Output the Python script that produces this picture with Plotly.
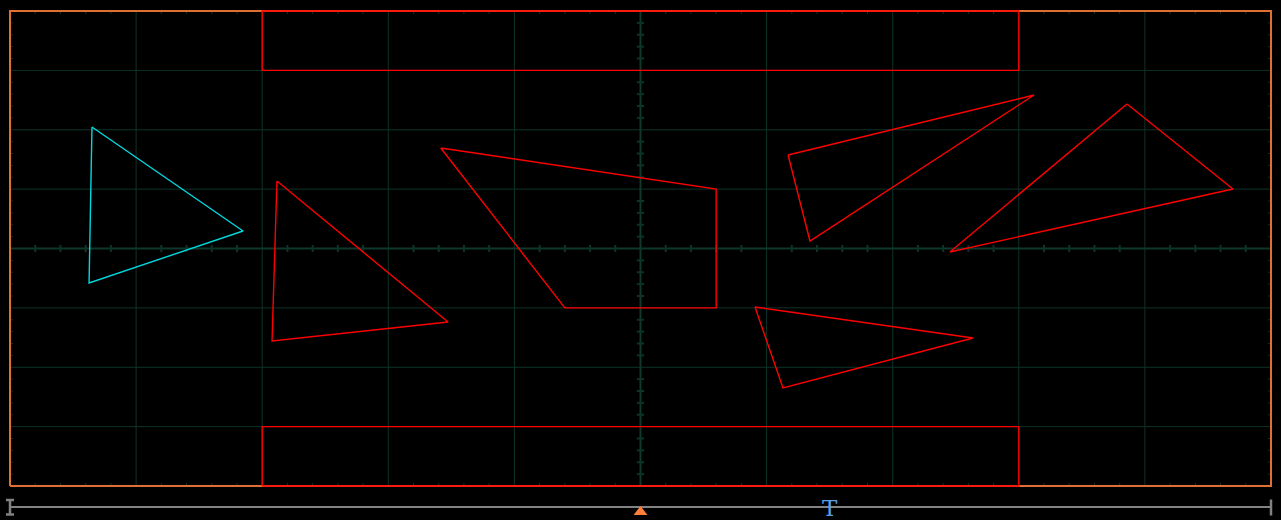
import plotly.graph_objects as go

# Screen: 10 horizontal divisions (-5..5), 8 vertical divisions (-4..4)
mask_top_x = [-3, 3, 3, -3]
mask_top_y = [3, 3, 4, 4]
mask_bot_x = [-3, 3, 3, -3]
mask_bot_y = [-4, -4, -3, -3]

cyan_tri_x = [-4.350, -3.152, -4.373]
cyan_tri_y = [2.046, 0.295, -0.581]

tri1_x = [-2.883, -1.526, -2.922]
tri1_y = [1.137, -1.238, -1.558]

quad_x = [-1.584, 0.6, 0.6, -0.6]
quad_y = [1.693, 1.0, -1.0, -1.0]

tri2_x = [1.170, 3.121, 1.344]
tri2_y = [1.575, 2.585, 0.126]

tri3_x = [3.858, 4.698, 2.454]
tri3_y = [2.434, 1.002, -0.059]

tri4_x = [0.908, 2.637, 1.130]
tri4_y = [-0.986, -1.507, -2.349]

trigger_pos = 0.0     # orange trigger marker (divisions)
t_marker_pos = 1.5    # blue T marker (divisions)

PXX = 126.1   # px per horizontal division
PXY = 59.375  # px per vertical division

def closed(xs, ys):
    return list(xs) + [xs[0]], list(ys) + [ys[0]]

fig = go.Figure()

GRID = "rgb(12,52,40)"
AXIS = "rgb(14,56,42)"

# grid lines
gx, gy = [], []
for i in range(-4, 5):
    if i == 0:
        continue
    gx += [i, i, None]; gy += [-4, 4, None]
for j in range(-3, 4):
    if j == 0:
        continue
    gx += [-5, 5, None]; gy += [j, j, None]
fig.add_trace(go.Scatter(x=gx, y=gy, mode="lines", line=dict(color=GRID, width=1), hoverinfo="skip"))

# center cross
fig.add_trace(go.Scatter(x=[-5, 5, None, 0, 0], y=[0, 0, None, -4, 4], mode="lines",
                         line=dict(color=AXIS, width=2), hoverinfo="skip"))
# center minor ticks
cx, cy = [], []
tx = 3.5 / PXX
ty = 3.5 / PXY
for k in range(-24, 25):
    v = k * 0.2
    if k % 5 != 0:
        cx += [v, v, None]; cy += [-ty, ty, None]
for k in range(-19, 20):
    v = k * 0.2
    if k % 5 != 0:
        cx += [-tx, tx, None]; cy += [v, v, None]
fig.add_trace(go.Scatter(x=cx, y=cy, mode="lines", line=dict(color=GRID, width=2), hoverinfo="skip"))

# edge minor ticks
ex, ey = [], []
el_x = 3 / PXX
el_y = 3 / PXY
for k in range(-24, 25):
    if k % 5 == 0:
        continue
    v = k * 0.2
    ex += [v, v, None, v, v, None]; ey += [4, 4 - el_y, None, -4, -4 + el_y, None]
for k in range(-19, 20):
    if k % 5 == 0:
        continue
    v = k * 0.2
    ex += [-5, -5 + el_x, None, 5, 5 - el_x, None]; ey += [v, v, None, v, v, None]
fig.add_trace(go.Scatter(x=ex, y=ey, mode="lines", line=dict(color=GRID, width=1), hoverinfo="skip"))

# frame
fig.add_trace(go.Scatter(x=[-5, 5, 5, -5, -5], y=[-4, -4, 4, 4, -4], mode="lines",
                         line=dict(color="rgb(222,112,52)", width=2), hoverinfo="skip"))

# red shapes
for xs, ys in [(mask_top_x, mask_top_y), (mask_bot_x, mask_bot_y), (tri1_x, tri1_y),
               (quad_x, quad_y), (tri2_x, tri2_y), (tri3_x, tri3_y), (tri4_x, tri4_y)]:
    X, Y = closed(xs, ys)
    fig.add_trace(go.Scatter(x=X, y=Y, mode="lines", line=dict(color="#ff0000", width=1.4), hoverinfo="skip"))

X, Y = closed(cyan_tri_x, cyan_tri_y)
fig.add_trace(go.Scatter(x=X, y=Y, mode="lines", line=dict(color="#00d8e0", width=1.4), hoverinfo="skip"))

# bottom timeline bar
def py(p):
    return (248.5 - p) / PXY

bar_y = py(507)
fig.add_trace(go.Scatter(x=[-5, 5], y=[bar_y, bar_y], mode="lines",
                         line=dict(color="rgb(130,130,130)", width=2), hoverinfo="skip"))
s = 4 / PXX
fig.add_trace(go.Scatter(
    x=[-5, -5, None, -5 - s, -5 + s, None, -5 - s, -5 + s, None, 5, 5],
    y=[py(499.5), py(515), None, py(500), py(500), None, py(514.5), py(514.5), None, py(499.5), py(515.5)],
    mode="lines", line=dict(color="rgb(130,130,130)", width=2.5), hoverinfo="skip"))
fig.add_trace(go.Scatter(x=[trigger_pos], y=[py(512)], mode="markers",
                         marker=dict(symbol="triangle-up", size=12, color="#ff7f3a", line=dict(width=0)),
                         hoverinfo="skip"))
fig.add_annotation(x=t_marker_pos, y=py(508), text="T", showarrow=False,
                   font=dict(family="DejaVu Serif", size=23, color="#5a9ee6"),
                   xanchor="center", yanchor="middle")

xpad = 10 / PXX
fig.update_layout(
    width=1281, height=520, autosize=False,
    margin=dict(l=0, r=0, t=0, b=0),
    paper_bgcolor="black", plot_bgcolor="black",
    showlegend=False,
    xaxis=dict(range=[-5 - xpad, 5 + xpad], visible=False, fixedrange=True),
    yaxis=dict(range=[py(520), py(0)], visible=False, fixedrange=True),
)

fig.write_html("out.html", config={"displayModeBar": False},
               post_script="document.body.style.margin='0';document.body.style.padding='0';"
                           "document.body.style.background='black';document.body.style.overflow='hidden';")
